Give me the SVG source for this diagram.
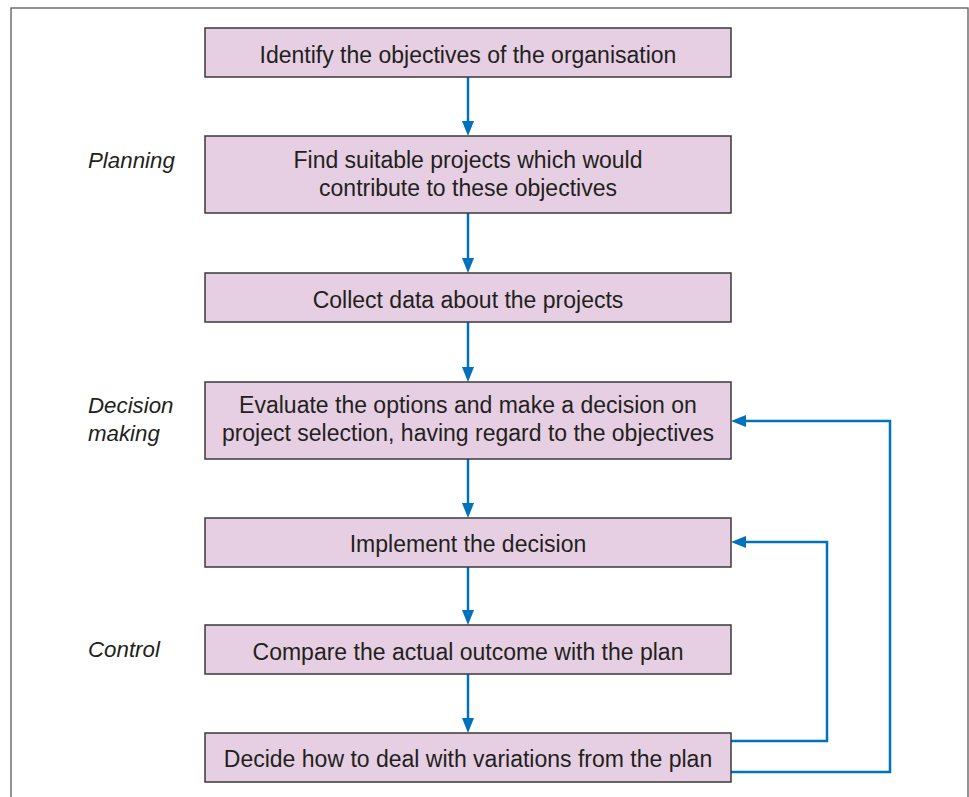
<svg xmlns="http://www.w3.org/2000/svg" width="969" height="797" viewBox="0 0 969 797">
<defs>
<style>
.box{fill:#E6CFE3;stroke:#3a3a3a;stroke-width:1.5}
.t{font-family:"Liberation Sans",Arial,sans-serif;font-size:23px;fill:#231F20;text-anchor:middle}
.lbl{font-family:"Liberation Sans",Arial,sans-serif;font-size:22.3px;font-style:italic;fill:#231F20}
.c{fill:none;stroke:#0071BC;stroke-width:2.5}
</style>
<marker id="ah" viewBox="0 0 15 12" refX="5" refY="6" markerWidth="15" markerHeight="12" markerUnits="userSpaceOnUse" orient="auto">
<path d="M0,0 L15,6 L0,12 Z" fill="#0071BC"/>
</marker>
</defs>
<rect width="969" height="797" fill="#ffffff"/>
<rect x="11" y="8" width="957" height="800" fill="none" stroke="#5a5a5a" stroke-width="1.3"/>

<text class="lbl" x="88" y="168">Planning</text>
<text class="lbl" x="88" y="413">Decision</text>
<text class="lbl" x="88" y="441">making</text>
<text class="lbl" x="88" y="657">Control</text>

<g id="connectors">
<path class="c" d="M468,77 V126" marker-end="url(#ah)"/>
<path class="c" d="M468,213 V263" marker-end="url(#ah)"/>
<path class="c" d="M468,322 V372" marker-end="url(#ah)"/>
<path class="c" d="M468,459 V508" marker-end="url(#ah)"/>
<path class="c" d="M468,567 V615" marker-end="url(#ah)"/>
<path class="c" d="M468,674 V723" marker-end="url(#ah)"/>
<path class="c" d="M731,741 H827 V542 H741" marker-end="url(#ah)"/>
<path class="c" d="M731,772 H890 V421 H741" marker-end="url(#ah)"/>
</g>

<g id="n1"><rect class="box" x="205" y="28" width="526" height="49"/><text class="t" x="468" y="63">Identify the objectives of the organisation</text></g>
<g id="n2"><rect class="box" x="205" y="136" width="526" height="77"/><text class="t" x="468" y="168">Find suitable projects which would</text><text class="t" x="468" y="196">contribute to these objectives</text></g>
<g id="n3"><rect class="box" x="205" y="273" width="526" height="49"/><text class="t" x="468" y="308">Collect data about the projects</text></g>
<g id="n4"><rect class="box" x="205" y="382" width="526" height="77"/><text class="t" x="468" y="413">Evaluate the options and make a decision on</text><text class="t" x="468" y="441">project selection, having regard to the objectives</text></g>
<g id="n5"><rect class="box" x="205" y="518" width="526" height="49"/><text class="t" x="468" y="552">Implement the decision</text></g>
<g id="n6"><rect class="box" x="205" y="625" width="526" height="49"/><text class="t" x="468" y="660">Compare the actual outcome with the plan</text></g>
<g id="n7"><rect class="box" x="205" y="733" width="526" height="49"/><text class="t" x="468" y="767">Decide how to deal with variations from the plan</text></g>
</svg>
